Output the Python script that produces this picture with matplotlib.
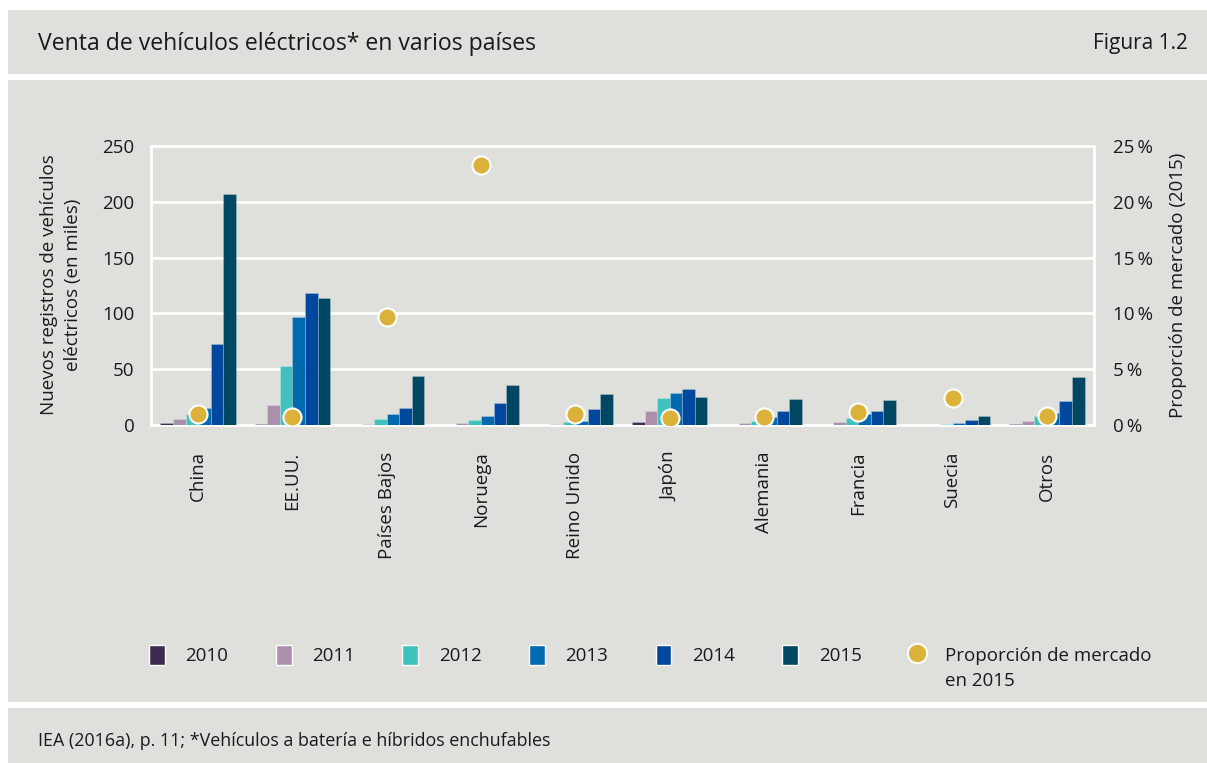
import numpy as np
import matplotlib
matplotlib.use("Agg")
import matplotlib.pyplot as plt
from matplotlib.patches import Rectangle
from matplotlib.lines import Line2D

# data
countries = ["China", "EE.UU.", "Países Bajos", "Noruega", "Reino Unido",
             "Japón", "Alemania", "Francia", "Suecia", "Otros"]
years = ["2010", "2011", "2012", "2013", "2014", "2015"]
sales_2010 = [1.5, 1.0, 0.3, 0.3, 0.3, 2.7, 0.3, 0.3, 0.2, 0.5]
sales_2011 = [5.0, 17.5, 0.5, 1.8, 1.0, 12.5, 1.8, 2.7, 0.4, 3.6]
sales_2012 = [10.0, 53.0, 5.0, 4.5, 2.4, 24.5, 3.6, 6.3, 0.8, 8.0]
sales_2013 = [15.0, 96.5, 10.0, 8.0, 3.3, 29.0, 7.0, 10.0, 1.8, 10.7]
sales_2014 = [73.0, 118.0, 15.2, 19.4, 14.6, 32.3, 12.8, 12.5, 4.5, 21.2]
sales_2015 = [207.0, 113.5, 43.6, 35.5, 27.8, 24.8, 23.3, 22.7, 8.4, 42.7]
market_share_2015 = [1.0, 0.7, 9.7, 23.3, 1.0, 0.6, 0.75, 1.2, 2.4, 0.8]

y_ticks = [0, 50, 100, 150, 200, 250]
pct_ticks = [0, 5, 10, 15, 20, 25]

#style
BG = "#dfe0db"
TXT = "#1a1a1a"
bar_colors = ["#3d2a4f", "#ab8fad", "#3fc2bd", "#006aae", "#00479e", "#004763"]
dot_color = "#dbb13a"
FS = 13.5
plt.rcParams["font.family"] = ["Open Sans", "DejaVu Sans"]

fig = plt.figure(figsize=(12.07, 7.63), dpi=100)
fig.patch.set_facecolor("white")
W, H = 1207.0, 763.0

def panel(y0, y1):
    fig.patches.append(Rectangle((8 / W, 1 - y1 / H), 1 - 8 / W, (y1 - y0) / H,
                                 transform=fig.transFigure, facecolor=BG,
                                 edgecolor="none", zorder=-10))

panel(10, 74)
panel(80, 702)
panel(708, 763)

fig.text(38 / W, 1 - 44 / H, "Venta de vehículos eléctricos* en varios países",
         fontsize=16.6, color=TXT, va="center", ha="left")
fig.text(1188 / W, 1 - 44 / H, "Figura 1.2", fontsize=15, color=TXT,
         va="center", ha="right")
fig.text(38 / W, 1 - 741 / H,
         "IEA (2016a), p. 11; *Vehículos a batería e híbridos enchufables",
         fontsize=12.9, color=TXT, va="center", ha="left")

#main axes
ax = fig.add_axes([151 / W, 1 - 425 / H, (1094 - 151) / W, (425 - 146) / H])
ax.set_facecolor(BG)
x = np.arange(len(countries))
series = [sales_2010, sales_2011, sales_2012, sales_2013, sales_2014, sales_2015]
group_w = 0.8
bw = group_w / len(series)
for i, (vals, col, yr) in enumerate(zip(series, bar_colors, years)):
    ax.bar(x - group_w / 2 + bw * (i + 0.5), vals, width=bw, color=col,
           edgecolor=(1, 1, 1, 0.25), linewidth=0.6, label=yr, zorder=3)

ax.set_xlim(-0.5, len(countries) - 0.5)
ax.set_ylim(0, 250)
ax.set_yticks(y_ticks)
ax.set_yticklabels([str(t) for t in y_ticks])
ax.set_xticks(x)
ax.set_xticklabels(countries, rotation=90, va="top", ha="center")
ax.tick_params(axis="x", length=0, pad=19, labelsize=FS, colors=TXT)
ax.tick_params(axis="y", length=0, pad=12, labelsize=FS, colors=TXT)
ax.grid(axis="y", color="white", linewidth=2, zorder=0)
for s in ax.spines.values():
    s.set_color("white")
    s.set_linewidth(2)

ax2 = ax.twinx()
ax2.set_ylim(0, 25)
ax2.set_yticks(pct_ticks)
ax2.set_yticklabels([f"{t}\u2009%" for t in pct_ticks])
ax2.tick_params(axis="y", length=0, pad=14, labelsize=FS, colors=TXT)
for s in ax2.spines.values():
    s.set_visible(False)
ax2.scatter(x, market_share_2015, s=170, color=dot_color, edgecolor="white",
            linewidth=1.5, zorder=5)

fig.text(61 / W, 1 - 285 / H,
         "Nuevos registros de vehículos\neléctricos (en miles)",
         rotation=90, fontsize=FS, color=TXT, ha="center", va="center",
         multialignment="center", linespacing=1.4)
fig.text(1178 / W, 1 - 285 / H, "Proporción de mercado (2015)", rotation=90,
         fontsize=FS, color=TXT, ha="center", va="center")

#legend
handles = [Rectangle((0, 0), 1, 1, facecolor=c, edgecolor="white", linewidth=1)
           for c in bar_colors]
handles.append(Line2D([], [], marker="o", linestyle="none", markersize=14,
                      markerfacecolor=dot_color, markeredgecolor="white",
                      markeredgewidth=1.5))
labels = years + ["Proporción de mercado"]
leg = fig.legend(handles, labels, loc="center left",
                 bbox_to_anchor=(149 / W, 1 - 655 / H), ncol=7, frameon=False,
                 fontsize=FS, handlelength=0.85, handleheight=1.3,
                 handletextpad=1.1, columnspacing=2.52, labelcolor=TXT,
                 borderpad=0, borderaxespad=0)

# second line of the last legend label
fig.canvas.draw()
bb = leg.get_texts()[-1].get_window_extent()
fig.text(bb.x0 / W, (bb.y0 - 25) / H + (bb.height / 2) / H, "en 2015",
         fontsize=FS, color=TXT, ha="left", va="center")

fig.savefig("out.png", dpi=100, facecolor=fig.get_facecolor())
